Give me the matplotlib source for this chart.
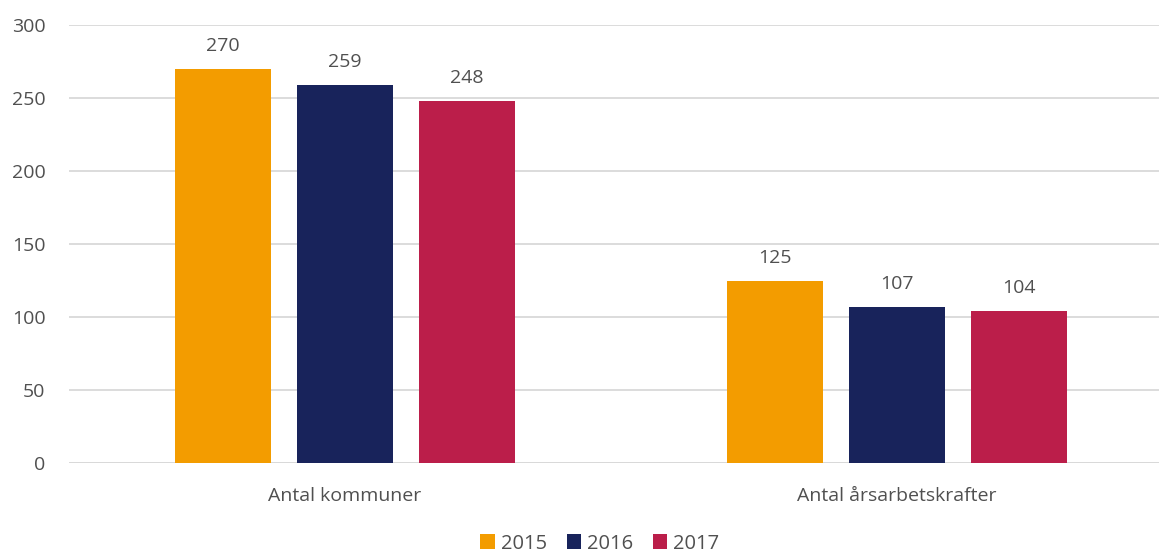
import matplotlib.pyplot as plt
import numpy as np

categories = ["Antal kommuner", "Antal årsarbetskrafter"]
years = ["2015", "2016", "2017"]
values = {
    "2015": [270, 125],
    "2016": [259, 107],
    "2017": [248, 104],
}
colors = ["#F39C00", "#18235B", "#BB1E4A"]

plt.rcParams['font.family'] = ['Open Sans', 'DejaVu Sans']
text_color = "#505050"

fig = plt.figure(figsize=(11.59, 5.55), dpi=100)
ax = fig.add_axes([69 / 1159, 92 / 555, 1 - 69 / 1159, 438 / 555])

x = np.arange(len(categories))
width = 96 / 552
step = 122 / 552
for i, year in enumerate(years):
    pos = x + (i - 1) * step
    bars = ax.bar(pos, values[year], width, color=colors[i], label=year, zorder=3)
    for b, v in zip(bars, values[year]):
        ax.annotate(str(v), (b.get_x() + b.get_width() / 2, v), xytext=(0, 10),
                    textcoords="offset points", ha="center", va="bottom",
                    fontsize=14, color=text_color)

ax.set_xlim(-0.5, (1159 - 345) / 552)
ax.set_ylim(0, 300)
ax.set_yticks(range(0, 301, 50))
ax.yaxis.grid(True, color="#D9D9D9", linewidth=1.3, zorder=0)
ax.set_axisbelow(True)
for s in ax.spines.values():
    s.set_visible(False)
ax.tick_params(axis="both", length=0, labelsize=14, colors=text_color)
ax.tick_params(axis="y", pad=17)
ax.tick_params(axis="x", pad=17)
ax.set_xticks(x)
ax.set_xticklabels(categories)
ax.axhline(0, color="#D9D9D9", linewidth=1.3, zorder=2)

leg = fig.legend(loc="lower center", bbox_to_anchor=(600 / 1159, -0.03), ncol=3,
                 frameon=False, fontsize=14.5, handlelength=0.7, handleheight=0.7,
                 handletextpad=0.3, columnspacing=1.0)
for t in leg.get_texts():
    t.set_color(text_color)

fig.savefig("out.png", dpi=100)
